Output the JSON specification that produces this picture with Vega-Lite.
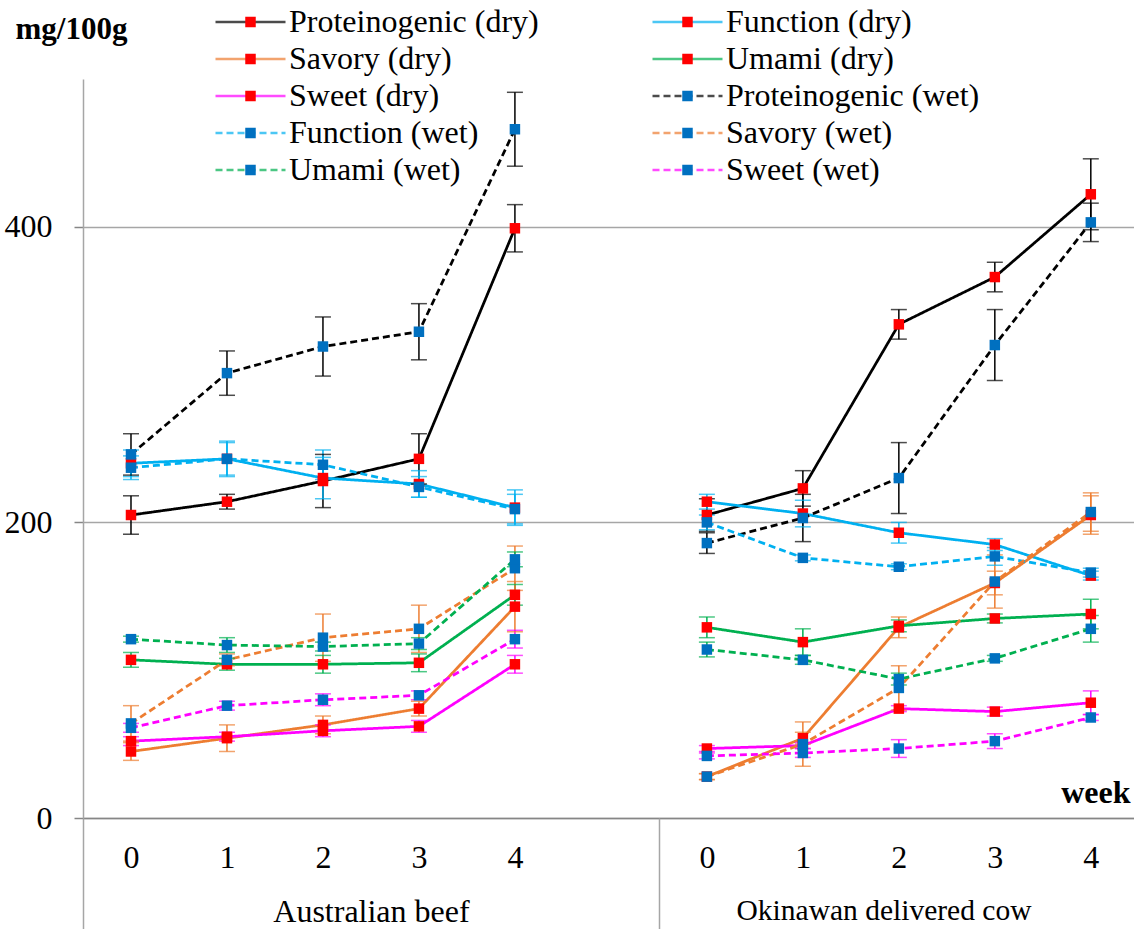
{
  "$schema": "https://vega.github.io/schema/vega-lite/v6.json",
  "autosize": {"type": "none"},
  "padding": {"left": 83, "top": 79, "right": 0, "bottom": 111},
  "width": 1051,
  "height": 739,
  "background": "white",
  "config": {
    "font": "Liberation Serif",
    "view": {"stroke": null},
    "axis": {"labelFont": "Liberation Serif", "titleFont": "Liberation Serif", "labelColor": "black", "titleColor": "black"},
    "legend": {"labelFont": "Liberation Serif", "labelColor": "black"}
  },
  "data": {
    "values": [
      {"g": "Australian beef", "w": 0, "s": "Proteinogenic (dry)", "v": 205, "e": 13},
      {"g": "Australian beef", "w": 1, "s": "Proteinogenic (dry)", "v": 214, "e": 5},
      {"g": "Australian beef", "w": 2, "s": "Proteinogenic (dry)", "v": 228, "e": 18},
      {"g": "Australian beef", "w": 3, "s": "Proteinogenic (dry)", "v": 243, "e": 17},
      {"g": "Australian beef", "w": 4, "s": "Proteinogenic (dry)", "v": 399, "e": 16},
      {"g": "Australian beef", "w": 0, "s": "Function (dry)", "v": 240, "e": 9},
      {"g": "Australian beef", "w": 1, "s": "Function (dry)", "v": 243, "e": 12},
      {"g": "Australian beef", "w": 2, "s": "Function (dry)", "v": 230, "e": 14},
      {"g": "Australian beef", "w": 3, "s": "Function (dry)", "v": 226, "e": 9},
      {"g": "Australian beef", "w": 4, "s": "Function (dry)", "v": 210, "e": 12},
      {"g": "Australian beef", "w": 0, "s": "Savory (dry)", "v": 45, "e": 6},
      {"g": "Australian beef", "w": 1, "s": "Savory (dry)", "v": 54, "e": 9},
      {"g": "Australian beef", "w": 2, "s": "Savory (dry)", "v": 63, "e": 6},
      {"g": "Australian beef", "w": 3, "s": "Savory (dry)", "v": 74, "e": 5},
      {"g": "Australian beef", "w": 4, "s": "Savory (dry)", "v": 143, "e": 17},
      {"g": "Australian beef", "w": 0, "s": "Umami (dry)", "v": 107, "e": 5},
      {"g": "Australian beef", "w": 1, "s": "Umami (dry)", "v": 104, "e": 4},
      {"g": "Australian beef", "w": 2, "s": "Umami (dry)", "v": 104, "e": 6},
      {"g": "Australian beef", "w": 3, "s": "Umami (dry)", "v": 105, "e": 6},
      {"g": "Australian beef", "w": 4, "s": "Umami (dry)", "v": 151, "e": 7},
      {"g": "Australian beef", "w": 0, "s": "Sweet (dry)", "v": 52, "e": 3},
      {"g": "Australian beef", "w": 1, "s": "Sweet (dry)", "v": 55, "e": 3},
      {"g": "Australian beef", "w": 2, "s": "Sweet (dry)", "v": 59, "e": 4},
      {"g": "Australian beef", "w": 3, "s": "Sweet (dry)", "v": 62, "e": 4},
      {"g": "Australian beef", "w": 4, "s": "Sweet (dry)", "v": 104, "e": 6},
      {"g": "Australian beef", "w": 0, "s": "Proteinogenic (wet)", "v": 246, "e": 14},
      {"g": "Australian beef", "w": 1, "s": "Proteinogenic (wet)", "v": 301, "e": 15},
      {"g": "Australian beef", "w": 2, "s": "Proteinogenic (wet)", "v": 319, "e": 20},
      {"g": "Australian beef", "w": 3, "s": "Proteinogenic (wet)", "v": 329, "e": 19},
      {"g": "Australian beef", "w": 4, "s": "Proteinogenic (wet)", "v": 466, "e": 25},
      {"g": "Australian beef", "w": 0, "s": "Function (wet)", "v": 237, "e": 8},
      {"g": "Australian beef", "w": 1, "s": "Function (wet)", "v": 243, "e": 11},
      {"g": "Australian beef", "w": 2, "s": "Function (wet)", "v": 239, "e": 10},
      {"g": "Australian beef", "w": 3, "s": "Function (wet)", "v": 224, "e": 7},
      {"g": "Australian beef", "w": 4, "s": "Function (wet)", "v": 209, "e": 10},
      {"g": "Australian beef", "w": 0, "s": "Savory (wet)", "v": 64, "e": 12},
      {"g": "Australian beef", "w": 1, "s": "Savory (wet)", "v": 107, "e": 4},
      {"g": "Australian beef", "w": 2, "s": "Savory (wet)", "v": 122, "e": 16},
      {"g": "Australian beef", "w": 3, "s": "Savory (wet)", "v": 128, "e": 16},
      {"g": "Australian beef", "w": 4, "s": "Savory (wet)", "v": 169, "e": 15},
      {"g": "Australian beef", "w": 0, "s": "Umami (wet)", "v": 121, "e": 2},
      {"g": "Australian beef", "w": 1, "s": "Umami (wet)", "v": 117, "e": 5},
      {"g": "Australian beef", "w": 2, "s": "Umami (wet)", "v": 116, "e": 3},
      {"g": "Australian beef", "w": 3, "s": "Umami (wet)", "v": 118, "e": 4},
      {"g": "Australian beef", "w": 4, "s": "Umami (wet)", "v": 175, "e": 5},
      {"g": "Australian beef", "w": 0, "s": "Sweet (wet)", "v": 61, "e": 3},
      {"g": "Australian beef", "w": 1, "s": "Sweet (wet)", "v": 76, "e": 3},
      {"g": "Australian beef", "w": 2, "s": "Sweet (wet)", "v": 80, "e": 4},
      {"g": "Australian beef", "w": 3, "s": "Sweet (wet)", "v": 83, "e": 3},
      {"g": "Australian beef", "w": 4, "s": "Sweet (wet)", "v": 121, "e": 6},
      {"g": "Okinawan delivered cow", "w": 0, "s": "Proteinogenic (dry)", "v": 205, "e": 11},
      {"g": "Okinawan delivered cow", "w": 1, "s": "Proteinogenic (dry)", "v": 223, "e": 12},
      {"g": "Okinawan delivered cow", "w": 2, "s": "Proteinogenic (dry)", "v": 334, "e": 10},
      {"g": "Okinawan delivered cow", "w": 3, "s": "Proteinogenic (dry)", "v": 366, "e": 10},
      {"g": "Okinawan delivered cow", "w": 4, "s": "Proteinogenic (dry)", "v": 422, "e": 24},
      {"g": "Okinawan delivered cow", "w": 0, "s": "Function (dry)", "v": 214, "e": 5},
      {"g": "Okinawan delivered cow", "w": 1, "s": "Function (dry)", "v": 206, "e": 9},
      {"g": "Okinawan delivered cow", "w": 2, "s": "Function (dry)", "v": 193, "e": 7},
      {"g": "Okinawan delivered cow", "w": 3, "s": "Function (dry)", "v": 185, "e": 4},
      {"g": "Okinawan delivered cow", "w": 4, "s": "Function (dry)", "v": 164, "e": 3},
      {"g": "Okinawan delivered cow", "w": 0, "s": "Savory (dry)", "v": 28, "e": 2},
      {"g": "Okinawan delivered cow", "w": 1, "s": "Savory (dry)", "v": 54, "e": 4},
      {"g": "Okinawan delivered cow", "w": 2, "s": "Savory (dry)", "v": 129, "e": 7},
      {"g": "Okinawan delivered cow", "w": 3, "s": "Savory (dry)", "v": 159, "e": 8},
      {"g": "Okinawan delivered cow", "w": 4, "s": "Savory (dry)", "v": 205, "e": 13},
      {"g": "Okinawan delivered cow", "w": 0, "s": "Umami (dry)", "v": 129, "e": 7},
      {"g": "Okinawan delivered cow", "w": 1, "s": "Umami (dry)", "v": 119, "e": 9},
      {"g": "Okinawan delivered cow", "w": 2, "s": "Umami (dry)", "v": 130, "e": 4},
      {"g": "Okinawan delivered cow", "w": 3, "s": "Umami (dry)", "v": 135, "e": 3},
      {"g": "Okinawan delivered cow", "w": 4, "s": "Umami (dry)", "v": 138, "e": 10},
      {"g": "Okinawan delivered cow", "w": 0, "s": "Sweet (dry)", "v": 47, "e": 2},
      {"g": "Okinawan delivered cow", "w": 1, "s": "Sweet (dry)", "v": 49, "e": 2},
      {"g": "Okinawan delivered cow", "w": 2, "s": "Sweet (dry)", "v": 74, "e": 2},
      {"g": "Okinawan delivered cow", "w": 3, "s": "Sweet (dry)", "v": 72, "e": 3},
      {"g": "Okinawan delivered cow", "w": 4, "s": "Sweet (dry)", "v": 78, "e": 8},
      {"g": "Okinawan delivered cow", "w": 0, "s": "Proteinogenic (wet)", "v": 186, "e": 7},
      {"g": "Okinawan delivered cow", "w": 1, "s": "Proteinogenic (wet)", "v": 203, "e": 16},
      {"g": "Okinawan delivered cow", "w": 2, "s": "Proteinogenic (wet)", "v": 230, "e": 24},
      {"g": "Okinawan delivered cow", "w": 3, "s": "Proteinogenic (wet)", "v": 320, "e": 24},
      {"g": "Okinawan delivered cow", "w": 4, "s": "Proteinogenic (wet)", "v": 403, "e": 13},
      {"g": "Okinawan delivered cow", "w": 0, "s": "Function (wet)", "v": 200, "e": 5},
      {"g": "Okinawan delivered cow", "w": 1, "s": "Function (wet)", "v": 176, "e": 2},
      {"g": "Okinawan delivered cow", "w": 2, "s": "Function (wet)", "v": 170, "e": 2},
      {"g": "Okinawan delivered cow", "w": 3, "s": "Function (wet)", "v": 177, "e": 6},
      {"g": "Okinawan delivered cow", "w": 4, "s": "Function (wet)", "v": 166, "e": 3},
      {"g": "Okinawan delivered cow", "w": 0, "s": "Savory (wet)", "v": 28, "e": 2},
      {"g": "Okinawan delivered cow", "w": 1, "s": "Savory (wet)", "v": 50, "e": 15},
      {"g": "Okinawan delivered cow", "w": 2, "s": "Savory (wet)", "v": 88, "e": 15},
      {"g": "Okinawan delivered cow", "w": 3, "s": "Savory (wet)", "v": 160, "e": 18},
      {"g": "Okinawan delivered cow", "w": 4, "s": "Savory (wet)", "v": 207, "e": 13},
      {"g": "Okinawan delivered cow", "w": 0, "s": "Umami (wet)", "v": 114, "e": 5},
      {"g": "Okinawan delivered cow", "w": 1, "s": "Umami (wet)", "v": 107, "e": 3},
      {"g": "Okinawan delivered cow", "w": 2, "s": "Umami (wet)", "v": 94, "e": 4},
      {"g": "Okinawan delivered cow", "w": 3, "s": "Umami (wet)", "v": 108, "e": 2},
      {"g": "Okinawan delivered cow", "w": 4, "s": "Umami (wet)", "v": 128, "e": 9},
      {"g": "Okinawan delivered cow", "w": 0, "s": "Sweet (wet)", "v": 42, "e": 2},
      {"g": "Okinawan delivered cow", "w": 1, "s": "Sweet (wet)", "v": 44, "e": 3},
      {"g": "Okinawan delivered cow", "w": 2, "s": "Sweet (wet)", "v": 47, "e": 6},
      {"g": "Okinawan delivered cow", "w": 3, "s": "Sweet (wet)", "v": 52, "e": 5},
      {"g": "Okinawan delivered cow", "w": 4, "s": "Sweet (wet)", "v": 68, "e": 2}
    ]
  },
  "transform": [
    {"calculate": "(datum.g == 'Australian beef' ? 0 : 6) + datum.w", "as": "pos"},
    {"calculate": "datum.v - datum.e", "as": "lo"},
    {"calculate": "datum.v + datum.e", "as": "hi"},
    {"calculate": "'m:' + datum.s", "as": "marker"}
  ],
  "resolve": {"axis": {"x": "independent"}},
  "layer": [
    {
      "mark": {"type": "line", "strokeWidth": 2.75},
      "encoding": {
        "x": {
          "field": "pos", "type": "quantitative",
          "scale": {"domain": [-0.5, 10.45], "nice": false, "zero": false},
          "axis": {
            "orient": "bottom",
            "values": [0, 1, 2, 3, 4, 6, 7, 8, 9, 10],
            "labelExpr": "datum.value < 5.5 ? datum.value : datum.value - 6",
            "ticks": false, "grid": false,
            "domain": true, "domainColor": "#868686", "domainWidth": 1.5,
            "labelFont": "Liberation Serif", "labelFontSize": 32, "labelPadding": 24, "labelFlush": false, "labelOverlap": false,
            "title": "week", "titleFont": "Liberation Serif", "titleFontSize": 32, "titleFontWeight": "bold",
            "titleX": 1047, "titleY": -26, "titleAlign": "right", "titleBaseline": "middle"
          }
        },
        "y": {
          "field": "v", "type": "quantitative",
          "scale": {"domain": [0, 500], "nice": false},
          "axis": {
            "orient": "left",
            "values": [0, 200, 400],
            "grid": true, "gridColor": "#a6a6a6", "gridWidth": 1.5,
            "domain": true, "domainColor": "#a6a6a6", "domainWidth": 1.5,
            "ticks": true, "tickSize": 9, "tickColor": "#868686", "tickWidth": 1.5,
            "labelFont": "Liberation Serif", "labelFontSize": 32, "labelPadding": 22,
            "title": "mg/100g", "titleFont": "Liberation Serif", "titleAngle": 0, "titleFontSize": 31, "titleFontWeight": "bold",
            "titleX": -68, "titleY": -50, "titleAlign": "left", "titleBaseline": "middle"
          }
        },
        "color": {
          "field": "s", "type": "nominal",
          "scale": {
            "domain": ["Proteinogenic (dry)", "Function (dry)", "Savory (dry)", "Umami (dry)", "Sweet (dry)", "Proteinogenic (wet)", "Function (wet)", "Savory (wet)", "Umami (wet)", "Sweet (wet)"],
            "range": ["#000000", "#00B0F0", "#ED7D31", "#00B050", "#FF00FF", "#000000", "#00B0F0", "#ED7D31", "#00B050", "#FF00FF"]
          },
          "legend": {
            "orient": "none", "direction": "horizontal", "legendX": 131, "legendY": -73, "columns": 2, "columnPadding": 112, "rowPadding": 5, "clipHeight": 32,
            "padding": 0, "title": null, "symbolType": "M-1,0H1", "symbolSize": 4900, "symbolStrokeWidth": 2.5,
            "labelFont": "Liberation Serif", "labelFontSize": 32, "labelOffset": 2, "labelLimit": 500, "symbolLimit": 0
          }
        },
        "strokeDash": {
          "field": "s", "type": "nominal",
          "scale": {
            "domain": ["Proteinogenic (dry)", "Function (dry)", "Savory (dry)", "Umami (dry)", "Sweet (dry)", "Proteinogenic (wet)", "Function (wet)", "Savory (wet)", "Umami (wet)", "Sweet (wet)"],
            "range": [[1, 0], [1, 0], [1, 0], [1, 0], [1, 0], [7, 4], [7, 4], [7, 4], [7, 4], [7, 4]]
          },
          "legend": {
            "orient": "none", "direction": "horizontal", "legendX": 131, "legendY": -73, "columns": 2, "columnPadding": 112, "rowPadding": 5, "clipHeight": 32,
            "padding": 0, "title": null, "symbolType": "M-1,0H1", "symbolSize": 4900, "symbolStrokeWidth": 2.5,
            "labelFont": "Liberation Serif", "labelFontSize": 32, "labelOffset": 2, "labelLimit": 500, "symbolLimit": 0
          }
        },
        "detail": {"field": "g"},
        "order": {"field": "pos", "type": "quantitative"}
      }
    },
    {
      "mark": {"type": "rule", "strokeWidth": 1.5},
      "encoding": {
        "x": {"field": "pos", "type": "quantitative", "axis": null},
        "y": {"field": "lo", "type": "quantitative"},
        "y2": {"field": "hi"},
        "color": {"field": "s", "type": "nominal"}
      }
    },
    {
      "mark": {"type": "tick", "orient": "horizontal", "size": 16, "thickness": 1.5},
      "encoding": {
        "x": {
          "field": "pos", "type": "quantitative",
          "axis": {
            "orient": "bottom",
            "values": [-0.5, 2.5, 5.5, 7.84],
            "labelExpr": "datum.value == 2.5 ? 'Australian beef' : datum.value == 7.84 ? 'Okinawan delivered cow' : ''",
            "domain": false, "grid": false,
            "ticks": true, "tickSize": 111, "tickColor": "#a6a6a6", "tickWidth": 1.5,
            "tickOpacity": {"condition": {"test": "datum.value == 2.5 || datum.value == 7.84", "value": 0}, "value": 1},
            "labelFont": "Liberation Serif",
            "labelFontSize": {"condition": {"test": "datum.value == 7.84", "value": 29.5}, "value": 32},
            "labelPadding": -33, "labelFlush": false, "labelOverlap": false, "labelLimit": 0,
            "title": null
          }
        },
        "y": {"field": "lo", "type": "quantitative"},
        "color": {"field": "s", "type": "nominal"}
      }
    },
    {
      "mark": {"type": "tick", "orient": "horizontal", "size": 16, "thickness": 1.5},
      "encoding": {
        "x": {"field": "pos", "type": "quantitative", "axis": null},
        "y": {"field": "hi", "type": "quantitative"},
        "color": {"field": "s", "type": "nominal"}
      }
    },
    {
      "mark": {"type": "square", "size": 110, "filled": true, "opacity": 1, "strokeWidth": 0},
      "encoding": {
        "x": {"field": "pos", "type": "quantitative", "axis": null},
        "y": {"field": "v", "type": "quantitative"},
        "fill": {
          "field": "marker", "type": "nominal",
          "scale": {
            "domain": ["m:Proteinogenic (dry)", "m:Function (dry)", "m:Savory (dry)", "m:Umami (dry)", "m:Sweet (dry)", "m:Proteinogenic (wet)", "m:Function (wet)", "m:Savory (wet)", "m:Umami (wet)", "m:Sweet (wet)"],
            "range": ["#FF0000", "#FF0000", "#FF0000", "#FF0000", "#FF0000", "#0070C0", "#0070C0", "#0070C0", "#0070C0", "#0070C0"]
          },
          "legend": {
            "orient": "none", "direction": "horizontal", "legendX": 131, "legendY": -73, "columns": 2, "columnPadding": 112, "rowPadding": 5, "clipHeight": 32,
            "padding": 0, "title": null, "zindex": 1,
            "symbolType": "M-1,0H1M-0.15,-0.15H0.15V0.15H-0.15Z", "symbolSize": 4900,
            "symbolStrokeWidth": 2.5, "symbolStrokeColor": "transparent",
            "labelExpr": "substring(datum.label, 2)",
            "labelFont": "Liberation Serif", "labelFontSize": 32, "labelOffset": 2, "labelLimit": 500, "labelOpacity": 0, "symbolLimit": 0
          }
        }
      }
    }
  ]
}
